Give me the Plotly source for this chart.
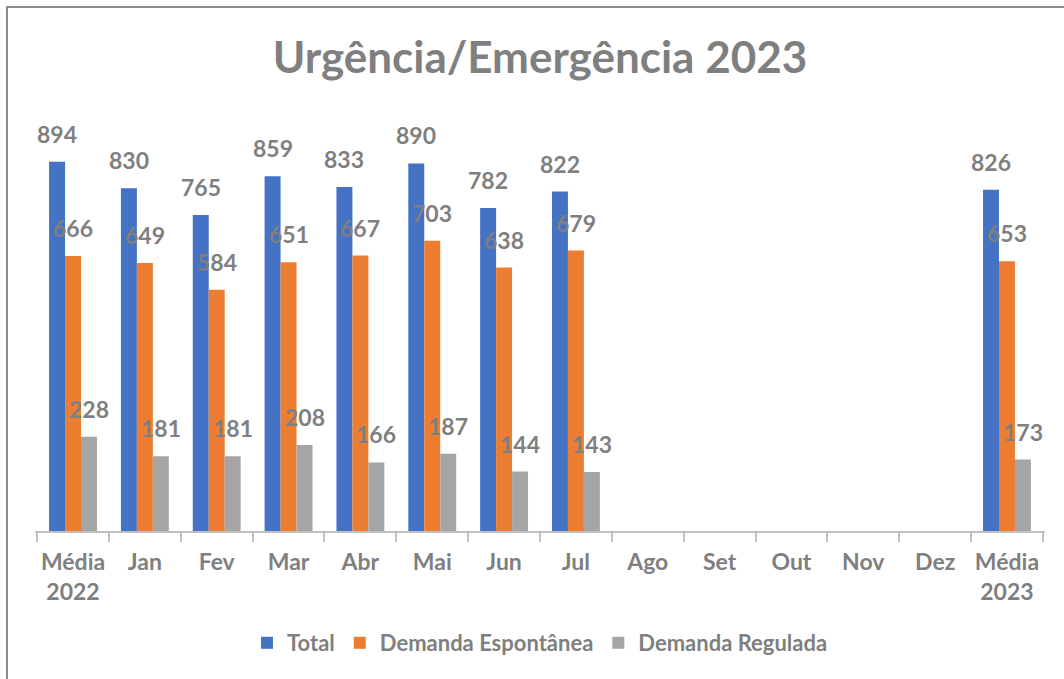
import plotly.graph_objects as go

categories = ["Média<br>2022", "Jan", "Fev", "Mar", "Abr", "Mai", "Jun", "Jul",
              "Ago", "Set", "Out", "Nov", "Dez", "Média<br>2023"]
total = [894, 830, 765, 859, 833, 890, 782, 822, None, None, None, None, None, 826]
espontanea = [666, 649, 584, 651, 667, 703, 638, 679, None, None, None, None, None, 653]
regulada = [228, 181, 181, 208, 166, 187, 144, 143, None, None, None, None, None, 173]

series = [
    ("Total", total, "#4472C4"),
    ("Demanda Espontânea", espontanea, "#ED7D31"),
    ("Demanda Regulada", regulada, "#A5A5A5"),
]

FONT = "Lato"
GRAY = "#7F7F7F"

W, H = 1064, 679
ML, MR, MT, MB = 35, 19, 118, 148
PW = W - ML - MR
PH = H - MT - MB

fig = go.Figure()
for name, vals, color in series:
    fig.add_trace(go.Bar(name=name, x=categories, y=vals, marker_color=color,
                         marker_line_width=0))

# data labels
bar_px = PW / len(categories) * (1 - 1/3) / 3
annotations = []
for i, (name, vals, color) in enumerate(series):
    for c, v in zip(categories, vals):
        if v is None:
            continue
        annotations.append(dict(
            x=c, y=v, xref="x", yref="y", text=f"<b>{v}</b>", showarrow=False,
            xshift=(i - 1) * bar_px, yshift=28, yanchor="middle",
            font=dict(family=FONT, size=23, color=GRAY)))

def px_to_paper_x(px):
    return (px - ML) / PW

def px_to_paper_y(py):
    return (H - MB - py) / PH

shapes = [
    dict(type="line", xref="paper", yref="paper",
         x0=px_to_paper_x(7), x1=px_to_paper_x(7),
         y0=px_to_paper_y(H + 5), y1=px_to_paper_y(6),
         line=dict(color="#8C8C8C", width=2)),
    dict(type="line", xref="paper", yref="paper",
         x0=px_to_paper_x(6), x1=px_to_paper_x(W + 5),
         y0=px_to_paper_y(7), y1=px_to_paper_y(7),
         line=dict(color="#8C8C8C", width=2)),
]

fig.update_layout(
    width=W, height=H,
    margin=dict(l=ML, r=MR, t=MT, b=MB, pad=0, autoexpand=False),
    paper_bgcolor="white", plot_bgcolor="white",
    barmode="group", bargap=1/3, bargroupgap=0,
    title=dict(text="<b>Urgência/Emergência 2023</b>", x=0.5, xref="paper",
               xanchor="center", y=1 - 58 / H, yref="container", yanchor="middle",
               font=dict(family=FONT, size=44, color=GRAY)),
    xaxis=dict(showline=True, linecolor="#BFBFBF", linewidth=1.5,
               ticks="outside", tickson="boundaries", ticklen=9,
               tickcolor="#BFBFBF", tickwidth=1.5,
               ticklabelstandoff=10, tickangle=0, automargin=False,
               tickvals=categories, ticktext=[f"<b>{c}</b>" for c in categories],
               tickfont=dict(family=FONT, size=23, color=GRAY),
               showgrid=False, fixedrange=True),
    yaxis=dict(range=[0, 1000], visible=False, showgrid=False, fixedrange=True,
               automargin=False),
    legend=dict(orientation="h", x=0.5, xanchor="center",
                y=px_to_paper_y(643), yanchor="middle",
                font=dict(family=FONT, size=22, color=GRAY, weight="bold"),
                itemwidth=30, traceorder="normal"),
    annotations=annotations,
    shapes=shapes,
    showlegend=True,
)

fig.write_html("out.html", config={"displayModeBar": False},
               post_script="document.body.style.margin='0';document.body.style.padding='0';")
